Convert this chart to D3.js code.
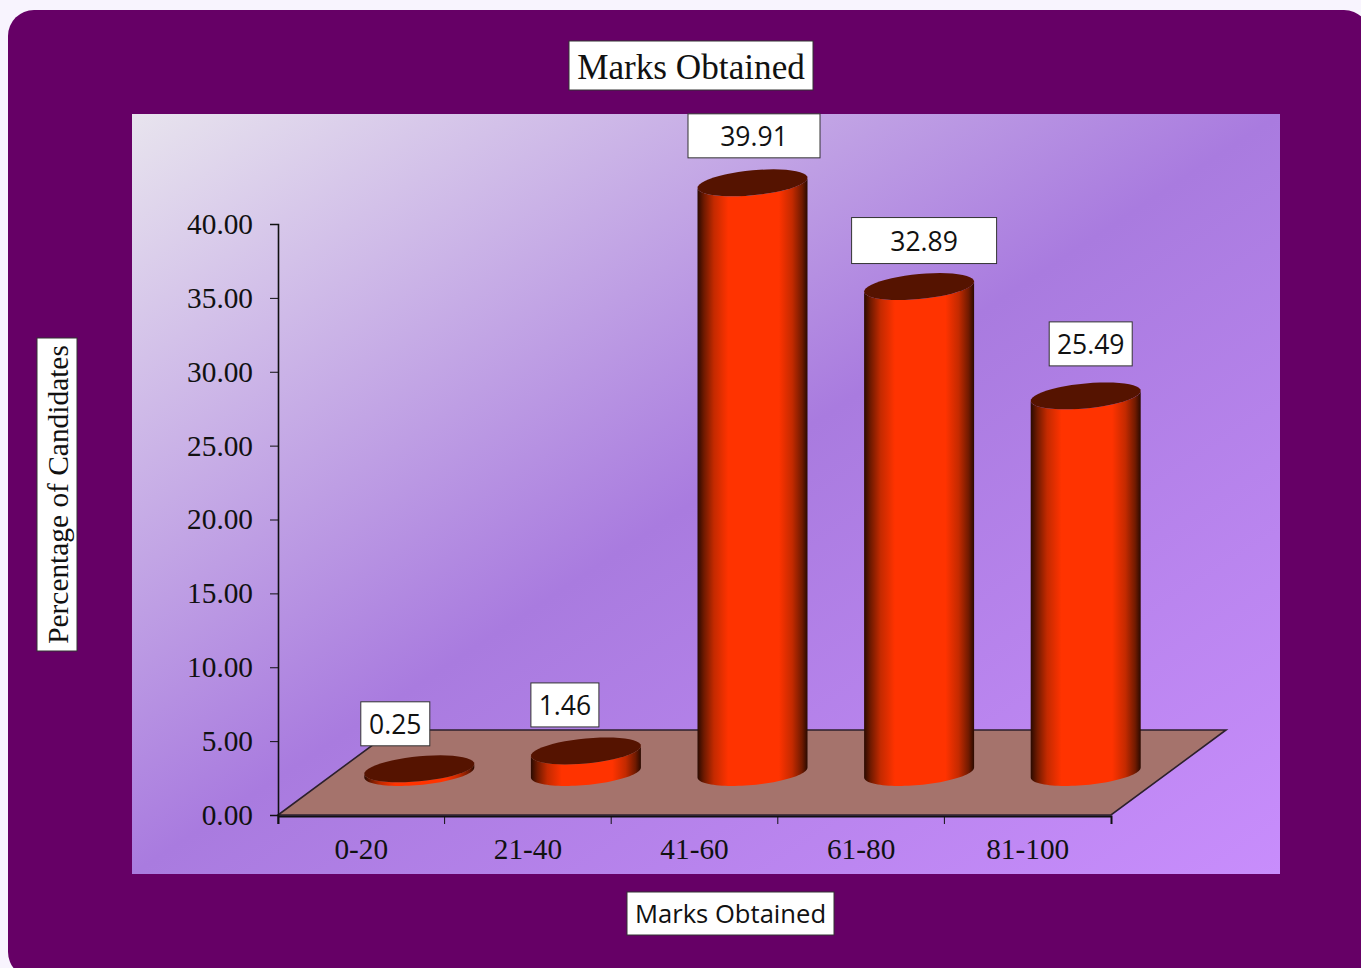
<!DOCTYPE html>
<html>
<head>
<meta charset="utf-8">
<script src="https://cdn.jsdelivr.net/npm/d3@7"></script>
<style>
  html, body { margin: 0; padding: 0; background: #f8f4fe; overflow: hidden; }
  svg { display: block; }
  .serif { font-family: "Liberation Serif", serif; fill: #111; }
  .sans { font-family: "Open Sans", sans-serif; fill: #111; }
  .axis path, .axis line { stroke: #111; }
  .axis text { font-family: "Liberation Serif", serif; font-size: 29.3px; fill: #111; }
</style>
</head>
<body>
<div id="plot"></div>
<script>
var categories = ['0-20', '21-40', '41-60', '61-80', '81-100']
var values = [0.25, 1.46, 39.91, 32.89, 25.49]
var valueLabels = ['0.25', '1.46', '39.91', '32.89', '25.49']
var yTicks = [0, 5, 10, 15, 20, 25, 30, 35, 40]

var chartTitle = 'Marks Obtained'
var xTitle = 'Marks Obtained'
var yTitle = 'Percentage of Candidates'

var width = 1361
var height = 968

// floor depth of the fake 3d
var depthX = 115
var depthY = 85
var barRx = 55
var barRy = 12.5
var barSkew = 5
var barNudge = 0.5

// label boxes were placed by hand in the original: offset from the bar top
var labelOffsets = [
  { dx: -24, dy: -45, w: 69, h: 44 },
  { dx: -21, dy: -46, w: 68, h: 44 },
  { dx: 1.5, dy: -47, w: 132, h: 44 },
  { dx: 5, dy: -46, w: 145, h: 46 },
  { dx: 5, dy: -52, w: 83, h: 44 }
]

var xScale = d3.scaleBand().domain(categories).range([278, 1111])
var yScale = d3.scaleLinear().domain([0, 40]).range([815, 224])

var svg = d3.select('#plot').append('svg')
  .attr('width', width)
  .attr('height', height)

var defs = svg.append('defs')

var panelGrad = defs.append('linearGradient')
  .attr('id', 'panelGrad')
  .attr('x1', 0).attr('y1', 0).attr('x2', 1).attr('y2', 1)
panelGrad.append('stop').attr('offset', '0%').attr('stop-color', '#e8e4ee')
panelGrad.append('stop').attr('offset', '50%').attr('stop-color', '#a97bdf')
panelGrad.append('stop').attr('offset', '100%').attr('stop-color', '#c88dfc')

var barGrad = defs.append('linearGradient')
  .attr('id', 'barGrad')
  .attr('x1', 0).attr('y1', 0).attr('x2', 1).attr('y2', 0)
barGrad.append('stop').attr('offset', '0%').attr('stop-color', '#2a0a00')
barGrad.append('stop').attr('offset', '6%').attr('stop-color', '#701a00')
barGrad.append('stop').attr('offset', '15%').attr('stop-color', '#c42a00')
barGrad.append('stop').attr('offset', '28%').attr('stop-color', '#ff3300')
barGrad.append('stop').attr('offset', '74%').attr('stop-color', '#ff3300')
barGrad.append('stop').attr('offset', '86%').attr('stop-color', '#c42a00')
barGrad.append('stop').attr('offset', '95%').attr('stop-color', '#701a00')
barGrad.append('stop').attr('offset', '100%').attr('stop-color', '#2a0a00')

// outer rounded card, runs off the right and bottom of the page
svg.append('rect')
  .attr('x', 8).attr('y', 10)
  .attr('width', 1362).attr('height', 968)
  .attr('rx', 26).attr('ry', 26)
  .attr('fill', '#660066')

svg.append('rect')
  .attr('x', 132).attr('y', 114)
  .attr('width', 1148).attr('height', 760)
  .attr('fill', 'url(#panelGrad)')

// floor
var x0 = xScale.range()[0]
var x1 = xScale.range()[1]
var y0 = yScale(0)
svg.append('path')
  .attr('d', d3.line()([[x0, y0], [x1, y0], [x1 + depthX, y0 - depthY], [x0 + depthX, y0 - depthY]]) + 'Z')
  .attr('fill', '#a5736c')
  .attr('stroke', '#2c202c')
  .attr('stroke-width', 1.6)

function rimPoint(cx, cy, t) {
  return [cx + barRx * Math.cos(t), cy + barRy * Math.sin(t) - barSkew * Math.cos(t)]
}

function rim(cx, cy, from, to) {
  return d3.range(0, 49).map(function(i) {
    return rimPoint(cx, cy, from + (to - from) * i / 48)
  })
}

function barCenter(i) {
  return xScale(categories[i]) + xScale.bandwidth() / 2 + depthX / 2 + barNudge
}

var lineGen = d3.line()

var bars = svg.selectAll('.bar')
  .data(values)
  .enter()
  .append('g')
  .attr('class', 'bar')

bars.append('path')
  .attr('fill', 'url(#barGrad)')
  .attr('d', function(d, i) {
    var cx = barCenter(i)
    var base = yScale(0) - depthY / 2
    var top = yScale(d) - depthY / 2
    var lower = rim(cx, base, 0, Math.PI)
    var upper = rim(cx, top, Math.PI, 0)
    return lineGen(lower.concat(upper)) + 'Z'
  })

bars.append('path')
  .attr('fill', '#551300')
  .attr('d', function(d, i) {
    return lineGen(rim(barCenter(i), yScale(d) - depthY / 2, 0, Math.PI * 2)) + 'Z'
  })

// axes
var xAxis = d3.axisBottom(xScale).tickSizeOuter(8).tickSizeInner(0).tickPadding(22)
var xAxisG = svg.append('g')
  .attr('class', 'axis')
  .attr('transform', 'translate(0,' + (y0 + 1) + ')')
  .call(xAxis)
xAxisG.select('.domain').attr('stroke-width', 2)

svg.selectAll('.xsep')
  .data(categories)
  .enter()
  .append('line')
  .attr('stroke', '#111')
  .attr('x1', function(d) { return xScale(d) })
  .attr('x2', function(d) { return xScale(d) })
  .attr('y1', y0 + 1)
  .attr('y2', y0 + 9)

var yAxis = d3.axisLeft(yScale)
  .tickValues(yTicks)
  .tickFormat(d3.format('.2f'))
  .tickSizeOuter(8)
  .tickSizeInner(8)
  .tickPadding(17)
var yAxisG = svg.append('g')
  .attr('class', 'axis')
  .attr('transform', 'translate(' + x0 + ',0)')
  .call(yAxis)
yAxisG.select('.domain').attr('stroke-width', 1.6)

// white boxes behind titles and labels
function textBox(cx, cy, w, h, txt, cls, size, rotate) {
  var g = svg.append('g')
    .attr('transform', 'translate(' + cx + ',' + cy + ')' + (rotate ? ' rotate(-90)' : ''))
  g.append('rect')
    .attr('x', -w / 2).attr('y', -h / 2)
    .attr('width', w).attr('height', h)
    .attr('fill', '#fff')
    .attr('stroke', '#333')
    .attr('stroke-width', 1)
  g.append('text')
    .attr('class', cls)
    .attr('text-anchor', 'middle')
    .attr('dy', '0.38em')
    .attr('font-size', size)
    .text(txt)
}

textBox(691, 65.5, 244, 49, chartTitle, 'serif', 35.2)
textBox(730.5, 913.5, 207, 43, xTitle, 'sans', 25.6)
textBox(57, 494.5, 313, 40, yTitle, 'serif', 29.4, true)

values.forEach(function(d, i) {
  var o = labelOffsets[i]
  var cx = barCenter(i) + o.dx
  var cy = yScale(d) - depthY / 2 + o.dy
  textBox(cx, cy, o.w, o.h, valueLabels[i], 'sans', 26.5)
})
</script>
</body>
</html>
